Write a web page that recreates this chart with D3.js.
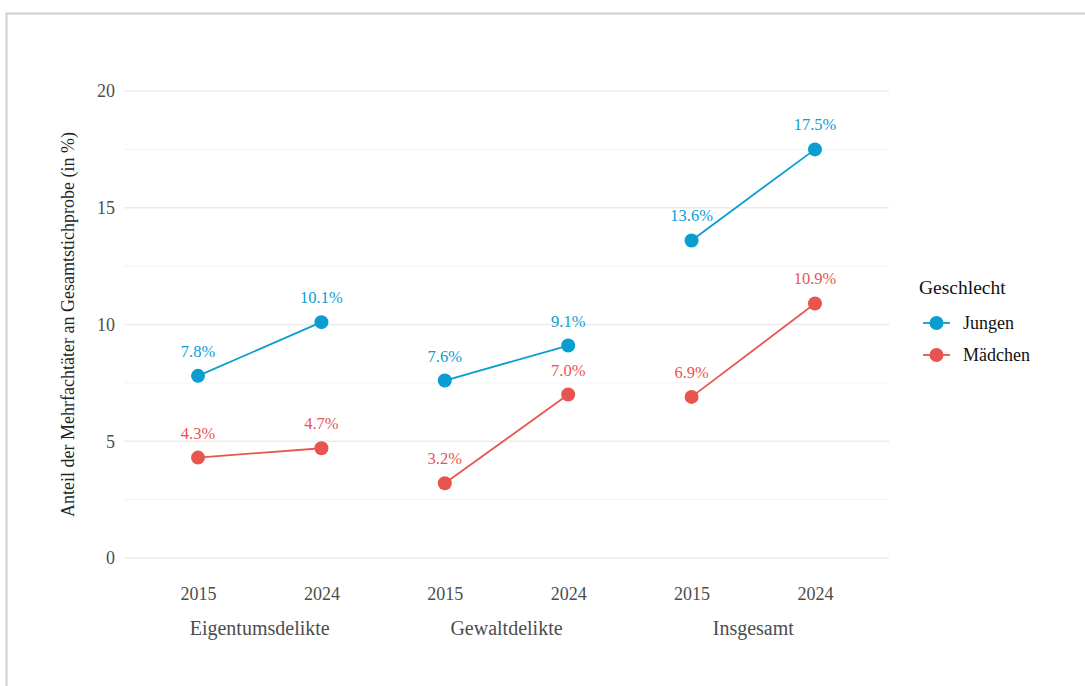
<!DOCTYPE html>
<html><head><meta charset="utf-8">
<script src="https://cdn.jsdelivr.net/npm/d3@7"></script>
<style>body{margin:0;background:#fff;} svg{display:block;font-family:"Liberation Serif","DejaVu Serif",serif;}</style>
</head><body><svg id="c" width="1085" height="686"></svg>
<script>
const groups = ["Eigentumsdelikte","Gewaltdelikte","Insgesamt"];
const years = ["2015","2024"];
const series = ["Jungen","Mädchen"];
const jungen = [7.8,10.1,7.6,9.1,13.6,17.5];
const maedchen = [4.3,4.7,3.2,7.0,6.9,10.9];
const yTicks = [0,5,10,15,20];
const colors = {"Jungen":"#0a9dcf","Mädchen":"#e8554f"};

(function(){
const svg = d3.select("#c");
svg.append("rect").attr("x",6.5).attr("y",13.5).attr("width",1100).attr("height",700)
  .attr("fill","none").attr("stroke","#cfcfcf").attr("stroke-width",2);

const pL=124, pR=889, pT=91, pB=558;
const cats = [];
groups.forEach(g=>years.forEach(yr=>cats.push(g+"|"+yr)));
const x = d3.scalePoint().domain(cats).range([pL,pR]).padding(0.6);
const y = d3.scaleLinear().domain([0,20]).range([pB,pT]);

// grid
const minor = [2.5,7.5,12.5,17.5];
svg.append("g").selectAll("line").data(minor).join("line")
  .attr("x1",pL).attr("x2",pR).attr("y1",d=>y(d)).attr("y2",d=>y(d))
  .attr("stroke","#f2f2f2").attr("stroke-width",1);
svg.append("g").selectAll("line").data(yTicks).join("line")
  .attr("x1",pL).attr("x2",pR).attr("y1",d=>y(d)).attr("y2",d=>y(d))
  .attr("stroke","#ebebeb").attr("stroke-width",1.5);

// y axis labels
const yAxis = d3.axisLeft(y).tickValues(yTicks).tickSize(0).tickPadding(9);
const ya = svg.append("g").attr("transform",`translate(${pL},0)`).call(yAxis);
ya.select(".domain").remove();
ya.selectAll("text").attr("font-size",18).attr("fill","#4d4d4d").attr("font-family","Liberation Serif");

// x axis labels
const xAxis = d3.axisBottom(x).tickSize(0).tickPadding(0).tickFormat(d=>d.split("|")[1]);
const xa = svg.append("g").attr("transform",`translate(0,${pB+42})`).call(xAxis);
xa.select(".domain").remove();
xa.selectAll("text").attr("font-size",18).attr("fill","#4d4d4d").attr("font-family","Liberation Serif").attr("dy",0);

// group labels
svg.append("g").selectAll("text").data(groups).join("text")
  .attr("x",g=>(x(g+"|2015")+x(g+"|2024"))/2).attr("y",635)
  .attr("text-anchor","middle").attr("font-size",20).attr("fill","#4d4d4d").text(d=>d);

// y title
svg.append("text").attr("transform",`translate(74,${(pT+pB)/2}) rotate(-90)`)
  .attr("text-anchor","middle").attr("font-size",18).attr("fill","#222")
  .text("Anteil der Mehrfachtäter an Gesamtstichprobe (in %)");

// data
const data = series.map((s,i)=>({name:s, vals:(i===0?jungen:maedchen).map((v,j)=>({cat:cats[j],grp:cats[j].split("|")[0],v}))}));
data.forEach(s=>{
  const g = svg.append("g");
  groups.forEach(gr=>{
    const pts = s.vals.filter(d=>d.grp===gr);
    g.append("path").attr("d",d3.line().x(d=>x(d.cat)).y(d=>y(d.v))(pts))
      .attr("fill","none").attr("stroke",colors[s.name]).attr("stroke-width",1.8);
  });
  g.selectAll("circle").data(s.vals).join("circle")
    .attr("cx",d=>x(d.cat)).attr("cy",d=>y(d.v)).attr("r",7).attr("fill",colors[s.name]);
  g.selectAll("text").data(s.vals).join("text")
    .attr("x",d=>x(d.cat)).attr("y",d=>y(d.v)-19)
    .attr("text-anchor","middle").attr("font-size",16.5).attr("fill",colors[s.name])
    .text(d=>d.v.toFixed(1)+"%");
});

// legend
svg.append("text").attr("x",919).attr("y",294).attr("font-size",19.5).attr("fill","#111").text("Geschlecht");
series.forEach((s,i)=>{
  const ly = 323 + i*32;
  svg.append("line").attr("x1",923).attr("x2",950).attr("y1",ly).attr("y2",ly)
    .attr("stroke",colors[s]).attr("stroke-width",1.8);
  svg.append("circle").attr("cx",936.5).attr("cy",ly).attr("r",7).attr("fill",colors[s]);
  svg.append("text").attr("x",963).attr("y",ly+6).attr("font-size",18).attr("fill","#111").text(s);
});
})();
</script></body></html>
